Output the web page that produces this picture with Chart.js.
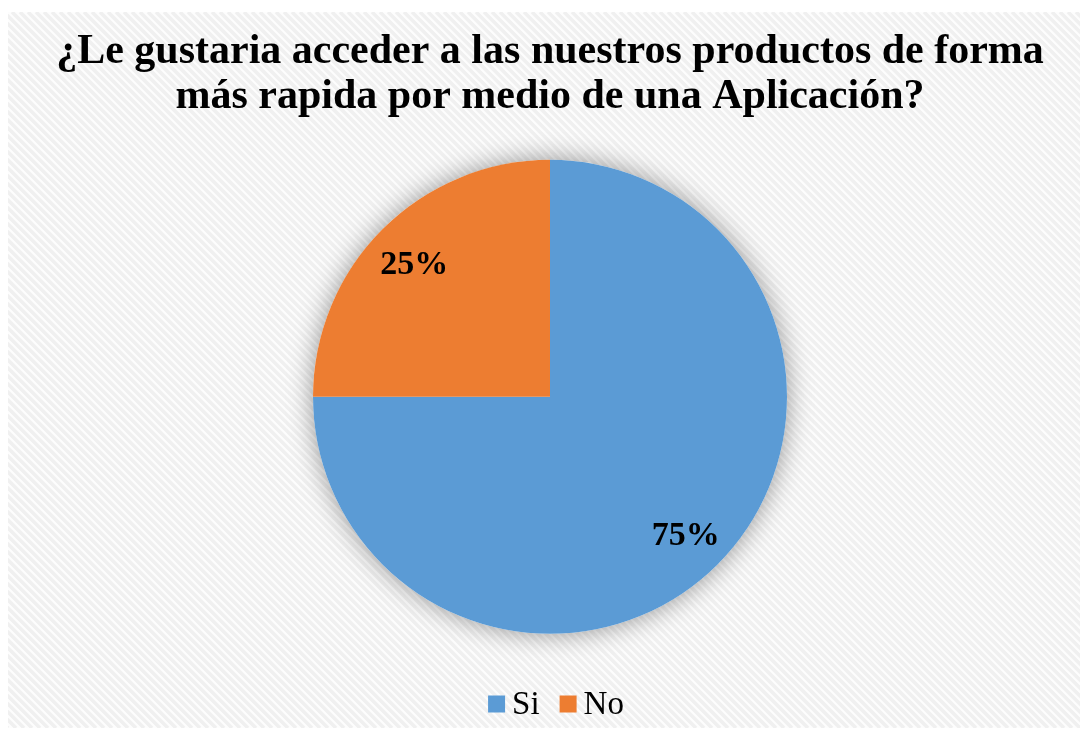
<!DOCTYPE html>
<html>
<head>
<meta charset="utf-8">
<script src="https://cdn.jsdelivr.net/npm/chart.js@4/dist/chart.umd.min.js"></script>
<style>
  html, body { margin: 0; padding: 0; background: #fff; }
  #wrap { width: 1088px; height: 733px; }
</style>
</head>
<body>
<div id="wrap"><canvas id="piechart" width="1088" height="733"></canvas></div>
<script>
var categories = ['Si', 'No'];
var answers    = [75, 25];
var colors     = ['#5B9BD5', '#ED7D31'];
var titleLines = ['¿Le gustaria acceder a las nuestros productos de forma', 'más rapida por medio de una Aplicación?'];

var serif = '"Liberation Serif", "Times New Roman", serif';

// striped background behind everything
var stripes = {
	id: 'stripes',
	beforeDraw: function(chart) {
		var ctx = chart.ctx;
		ctx.save();
		ctx.fillStyle = '#fff';
		ctx.fillRect(0, 0, chart.width, chart.height);
		var x0 = 8, y0 = 12, w = 1072, h = 716;
		ctx.beginPath();
		ctx.rect(x0, y0, w, h);
		ctx.clip();
		ctx.fillStyle = '#fdfdfd';
		ctx.fillRect(x0, y0, w, h);
		ctx.strokeStyle = '#f0f0f0';
		ctx.lineWidth = 3.5;
		for (var k = -h; k < w + h; k += 8) {
			ctx.beginPath();
			ctx.moveTo(x0 + k, y0);
			ctx.lineTo(x0 + k + h, y0 + h);
			ctx.stroke();
		}
		ctx.restore();
	}
};

// soft shadow under the pie
var pieShadow = {
	id: 'pieShadow',
	beforeDatasetsDraw: function(chart) {
		var arc = chart.getDatasetMeta(0).data[0];
		if (!arc) return;
		var ctx = chart.ctx;
		ctx.save();
		ctx.shadowColor = 'rgba(0,0,0,0.4)';
		ctx.shadowBlur = 26;
		ctx.fillStyle = '#fff';
		ctx.beginPath();
		ctx.arc(arc.x, arc.y, arc.outerRadius, 0, Math.PI * 2);
		ctx.fill();
		ctx.restore();
	}
};

// percentage labels inside slices
var sliceLabels = {
	id: 'sliceLabels',
	afterDatasetsDraw: function(chart) {
		var ctx = chart.ctx;
		var meta = chart.getDatasetMeta(0);
		var total = answers.reduce(function(a, b) { return a + b; }, 0);
		ctx.save();
		ctx.font = 'bold 34px ' + serif;
		ctx.fillStyle = '#000';
		ctx.textAlign = 'center';
		ctx.textBaseline = 'middle';
		meta.data.forEach(function(arc, i) {
			var mid = (arc.startAngle + arc.endAngle) / 2;
			var r = arc.outerRadius * 0.81;
			ctx.fillText(Math.round(answers[i] / total * 100) + '%', arc.x + Math.cos(mid) * r, arc.y + Math.sin(mid) * r + 4);
		});
		ctx.restore();
	}
};

// legend with the box close to its text, like the original
var tightLegend = {
	id: 'tightLegend',
	afterDraw: function(chart) {
		var ctx = chart.ctx;
		ctx.save();
		ctx.font = '33px ' + serif;
		ctx.textBaseline = 'middle';
		var box = 17, gap = 7, between = 20;
		var widths = categories.map(function(c) { return ctx.measureText(c).width; });
		var total = 0;
		widths.forEach(function(wd, i) { total += box + gap + wd + (i ? between : 0); });
		var x = 556 - total / 2, cy = 704;
		categories.forEach(function(c, i) {
			ctx.fillStyle = colors[i];
			ctx.fillRect(x, cy - box / 2, box, box);
			ctx.fillStyle = '#000';
			ctx.fillText(c, x + box + gap, cy + 1);
			x += box + gap + widths[i] + between;
		});
		ctx.restore();
	}
};

var ctx = document.getElementById('piechart').getContext('2d');
var allocationChart = new Chart(ctx, {
	type: 'pie',
	data: {
		labels: categories,
		datasets: [{
			data: answers,
			backgroundColor: colors,
			borderWidth: 0,
			radius: 237
		}]
	},
	options: {
		responsive: false,
		animation: false,
		layout: { padding: { left: 12, right: 0, top: 0, bottom: 81 } },
		plugins: {
			title: {
				display: true,
				text: titleLines,
				color: '#000',
				font: { family: serif, size: 42, weight: 'bold', lineHeight: 1.08 },
				padding: { top: 29, bottom: 22 }
			},
			legend: { display: false },
			tooltip: { enabled: false }
		}
	},
	plugins: [stripes, pieShadow, sliceLabels, tightLegend]
});
</script>
</body>
</html>
